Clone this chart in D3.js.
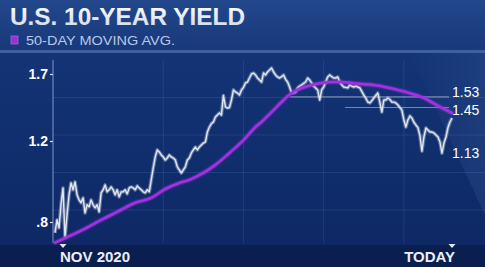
<!DOCTYPE html>
<html>
<head>
<meta charset="utf-8">
<script src="https://cdn.jsdelivr.net/npm/d3@7"></script>
<style>
html, body { margin: 0; padding: 0; background: #0c2660; overflow: hidden; }
svg { display: block; }
text { font-family: "Liberation Sans", Arial, sans-serif; }
</style>
</head>
<body>
<div id="chart"></div>
<script>
// daily close of the 10-year yield, one value per trading session (Nov 2020 -> today)
var yieldValues = [
    0.747, 0.811, 0.771, 0.885, 0.968, 0.722, 0.835, 0.934, 0.993, 0.959,
    0.998, 0.934, 0.909, 0.895, 0.919, 0.845, 0.885, 0.875, 0.909, 0.885,
    0.870, 0.885, 0.850, 0.944, 0.959, 0.983, 0.949, 0.959, 0.973, 0.959,
    0.934, 0.959, 0.924, 0.949, 0.949, 0.959, 0.939, 0.968, 0.973, 0.968,
    0.959, 0.978, 0.968, 0.959, 0.949, 0.944, 0.959, 0.949, 1.008, 1.067,
    1.121, 1.156, 1.146, 1.131, 1.121, 1.106, 1.116, 1.131, 1.121, 1.116,
    1.106, 1.072, 1.057, 1.042, 1.057, 1.072, 1.106, 1.116, 1.141, 1.156,
    1.170, 1.156, 1.170, 1.180, 1.190, 1.195, 1.267, 1.304, 1.330, 1.342,
    1.379, 1.394, 1.409, 1.394, 1.540, 1.454, 1.446, 1.450, 1.506, 1.581,
    1.566, 1.558, 1.543, 1.581, 1.600, 1.633, 1.640, 1.670, 1.700, 1.707,
    1.693, 1.670, 1.655, 1.640, 1.707, 1.693, 1.715, 1.730, 1.745, 1.715,
    1.693, 1.678, 1.670, 1.680, 1.693, 1.660, 1.640, 1.603, 1.558, 1.560,
    1.566, 1.596, 1.610, 1.618, 1.630, 1.640, 1.670, 1.655, 1.633, 1.610,
    1.596, 1.581, 1.506, 1.581, 1.603, 1.640, 1.678, 1.693, 1.680, 1.670,
    1.670, 1.678, 1.640, 1.620, 1.603, 1.600, 1.596, 1.618, 1.610, 1.603,
    1.610, 1.603, 1.596, 1.570, 1.543, 1.520, 1.491, 1.484, 1.500, 1.521,
    1.540, 1.558, 1.490, 1.416, 1.506, 1.506, 1.521, 1.510, 1.491, 1.490,
    1.484, 1.469, 1.450, 1.431, 1.357, 1.304, 1.357, 1.387, 1.372, 1.340,
    1.319, 1.300, 1.240, 1.150, 1.230, 1.297, 1.282, 1.267, 1.267, 1.260,
    1.245, 1.230, 1.195, 1.140, 1.190, 1.230, 1.300, 1.342, 1.372
];

// 50-day moving average, read at a few sessions
var maSessions = [0, 14, 24, 31, 40, 48, 55, 62, 67, 74, 80, 87, 94, 100, 103, 108,
    113, 118, 123, 128, 133, 138, 143, 148, 153, 159, 167, 175, 184, 192, 198];
var maValues = [0.698, 0.762, 0.815, 0.850, 0.895, 0.919, 0.963, 0.993, 1.008, 1.042,
    1.082, 1.141, 1.207, 1.304, 1.342, 1.416, 1.491, 1.558, 1.596, 1.618, 1.633,
    1.640, 1.640, 1.633, 1.625, 1.618, 1.596, 1.566, 1.521, 1.454, 1.409];

var yTicks = [0.8, 1.2, 1.7];
var levelValues = [1.53, 1.45, 1.13];
var levelLines = [1.53, 1.45];
var xMarkSessions = [4, 198];
var xMarkLabels = ["NOV 2020", "TODAY"];
var gridSessions = [54, 94, 134, 174];

var width = 485, height = 267;
var plotTop = 60, plotBottom = 243, axisX = 53;

var svg = d3.select("#chart")
    .append("svg")
    .attr("width", width)
    .attr("height", height);

var defs = svg.append("defs");

var bgGrad = defs.append("linearGradient").attr("id", "bg")
    .attr("x1", 0).attr("y1", 0).attr("x2", 0).attr("y2", 1);
bgGrad.append("stop").attr("offset", "0").attr("stop-color", "#15377a");
bgGrad.append("stop").attr("offset", "1").attr("stop-color", "#0d2763");

var headGrad = defs.append("linearGradient").attr("id", "head")
    .attr("x1", 0).attr("y1", 0).attr("x2", 0).attr("y2", 1);
headGrad.append("stop").attr("offset", "0").attr("stop-color", "#22478b");
headGrad.append("stop").attr("offset", "1").attr("stop-color", "#18397b");

var titleGrad = defs.append("linearGradient").attr("id", "titlefill")
    .attr("x1", 0).attr("y1", 0).attr("x2", 0).attr("y2", 1);
titleGrad.append("stop").attr("offset", "0").attr("stop-color", "#ffffff");
titleGrad.append("stop").attr("offset", "1").attr("stop-color", "#cdd8ea");

var sheen = defs.append("linearGradient").attr("id", "sheen")
    .attr("x1", 0).attr("y1", 0).attr("x2", 1).attr("y2", 0.4);
sheen.append("stop").attr("offset", "0").attr("stop-color", "#6d95d6").attr("stop-opacity", 0);
sheen.append("stop").attr("offset", "1").attr("stop-color", "#6d95d6").attr("stop-opacity", 0.12);

var glow = defs.append("filter").attr("id", "glow")
    .attr("x", "-10%").attr("y", "-10%").attr("width", "120%").attr("height", "120%");
glow.append("feGaussianBlur").attr("stdDeviation", 1.1).attr("result", "b");
var merge = glow.append("feMerge");
merge.append("feMergeNode").attr("in", "b");
merge.append("feMergeNode").attr("in", "SourceGraphic");

// backgrounds
svg.append("rect").attr("width", width).attr("height", height).attr("fill", "url(#bg)");
svg.append("path")
    .attr("d", "M410,53 L485,53 L485,215 Z")
    .attr("fill", "url(#sheen)");
svg.append("rect").attr("y", plotBottom + 2).attr("width", width).attr("height", height - plotBottom)
    .attr("fill", "#0a1f50");
svg.append("rect").attr("width", width).attr("height", 50).attr("fill", "url(#head)");
svg.append("rect").attr("y", 50).attr("width", width).attr("height", 3).attr("fill", "#3e609c");

// scales
var x = d3.scaleLinear().domain([0, 198]).range([55, 452]);
var y = d3.scaleLinear().domain(yTicks).range([222, 141, 74]);

// grid
var grid = svg.append("g").attr("stroke", "#5b7fbf").attr("stroke-opacity", 0.22).attr("stroke-width", 1);
grid.selectAll(".vgrid").data(gridSessions).enter().append("line")
    .attr("x1", function(d){ return x(d) }).attr("x2", function(d){ return x(d) })
    .attr("y1", plotTop).attr("y2", plotBottom);
grid.selectAll(".hgrid").data(d3.range(1, 5)).enter().append("line")
    .attr("x1", axisX).attr("x2", width)
    .attr("y1", function(d){ return plotTop + d * 37.5 })
    .attr("y2", function(d){ return plotTop + d * 37.5 });

// x baseline with glow
svg.append("line")
    .attr("x1", axisX).attr("x2", width).attr("y1", plotBottom).attr("y2", plotBottom)
    .attr("stroke", "#7ea6e0").attr("stroke-width", 1.5).attr("filter", "url(#glow)");

// y axis
var yAxis = d3.axisLeft(y)
    .tickValues(yTicks)
    .tickSize(3)
    .tickPadding(2)
    .tickFormat(function(d){ return d < 1 ? ".8" : d3.format(".1f")(d) });
var yg = svg.append("g").attr("transform", "translate(" + axisX + ",0)").call(yAxis);
yg.select(".domain").remove();
yg.selectAll(".tick line").attr("stroke", "#dfe7f4").attr("stroke-width", 1.2);
yg.selectAll(".tick text").attr("fill", "#ffffff").attr("font-size", 14).attr("font-weight", "bold")
    .style("font-family", "'Liberation Sans', Arial, sans-serif");
svg.append("line")
    .attr("x1", axisX).attr("x2", axisX).attr("y1", plotTop).attr("y2", plotBottom)
    .attr("stroke", "#7d9acb").attr("stroke-width", 1);

// level lines on the right
var levelStart = [290, 345];
var labelShift = [-5, 2, -2];
svg.selectAll(".level").data(levelLines).enter().append("line")
    .attr("x1", function(d, i){ return levelStart[i] }).attr("x2", 449)
    .attr("y1", function(d){ return y(d) }).attr("y2", function(d){ return y(d) })
    .attr("stroke", "#c3cfe4").attr("stroke-opacity", 0.55).attr("stroke-width", 1.2);
svg.selectAll(".levellabel").data(levelValues).enter().append("text")
    .attr("x", 452).attr("y", function(d, i){ return y(d) + labelShift[i] })
    .attr("dy", "0.36em")
    .attr("fill", "#ffffff").attr("font-size", 14)
    .text(function(d){ return d3.format(".2f")(d) });

// price line
var priceLine = d3.line()
    .x(function(d, i){ return x(i) })
    .y(function(d){ return y(d) });
svg.append("path").datum(yieldValues)
    .attr("d", priceLine)
    .attr("fill", "none").attr("stroke", "#a9b8cf").attr("stroke-opacity", 0.5)
    .attr("stroke-width", 3.6).attr("stroke-linejoin", "round");
svg.append("path").datum(yieldValues)
    .attr("d", priceLine)
    .attr("fill", "none").attr("stroke", "#e2e6ee")
    .attr("stroke-width", 1.4).attr("stroke-linejoin", "round");

// moving average
var maLine = d3.line()
    .curve(d3.curveMonotoneX)
    .x(function(d){ return x(d) })
    .y(function(d, i){ return y(maValues[i]) });
svg.append("path").datum(maSessions)
    .attr("d", maLine)
    .attr("fill", "none").attr("stroke", "#a030e0")
    .attr("stroke-width", 2.6).attr("stroke-linecap", "round")
    .attr("filter", "url(#glow)");

// x markers and labels
svg.selectAll(".xmark").data(xMarkSessions).enter().append("path")
    .attr("d", function(d){ var cx = x(d); return "M" + (cx - 3.5) + "," + (plotBottom + 1) + "L" + (cx + 3.5) + "," + (plotBottom + 1) + "L" + cx + "," + (plotBottom + 5) + "Z" })
    .attr("fill", "#dfe7f4");
svg.selectAll(".xlabel").data(xMarkSessions).enter().append("text")
    .attr("x", function(d, i){ return i === 0 ? x(d) - 3 : x(d) + 3 })
    .attr("y", 262)
    .attr("text-anchor", function(d, i){ return i === 0 ? "start" : "end" })
    .attr("fill", "#e9eef7").attr("font-size", 15).attr("font-weight", "bold")
    .text(function(d, i){ return xMarkLabels[i] });

// header
svg.append("text")
    .attr("x", 10).attr("y", 25)
    .attr("font-size", 24).attr("font-weight", "bold")
    .attr("textLength", 235).attr("lengthAdjust", "spacingAndGlyphs")
    .attr("fill", "url(#titlefill)")
    .text("U.S. 10-YEAR YIELD");
svg.append("rect").attr("x", 11).attr("y", 36).attr("width", 7).attr("height", 8)
    .attr("fill", "#9b2fd0").attr("stroke", "#c56af0").attr("stroke-width", 0.6);
svg.append("text")
    .attr("x", 26).attr("y", 45)
    .attr("font-size", 12.5)
    .attr("textLength", 149).attr("lengthAdjust", "spacingAndGlyphs")
    .attr("fill", "#b9c9e6")
    .text("50-DAY MOVING AVG.");
</script>
</body>
</html>
